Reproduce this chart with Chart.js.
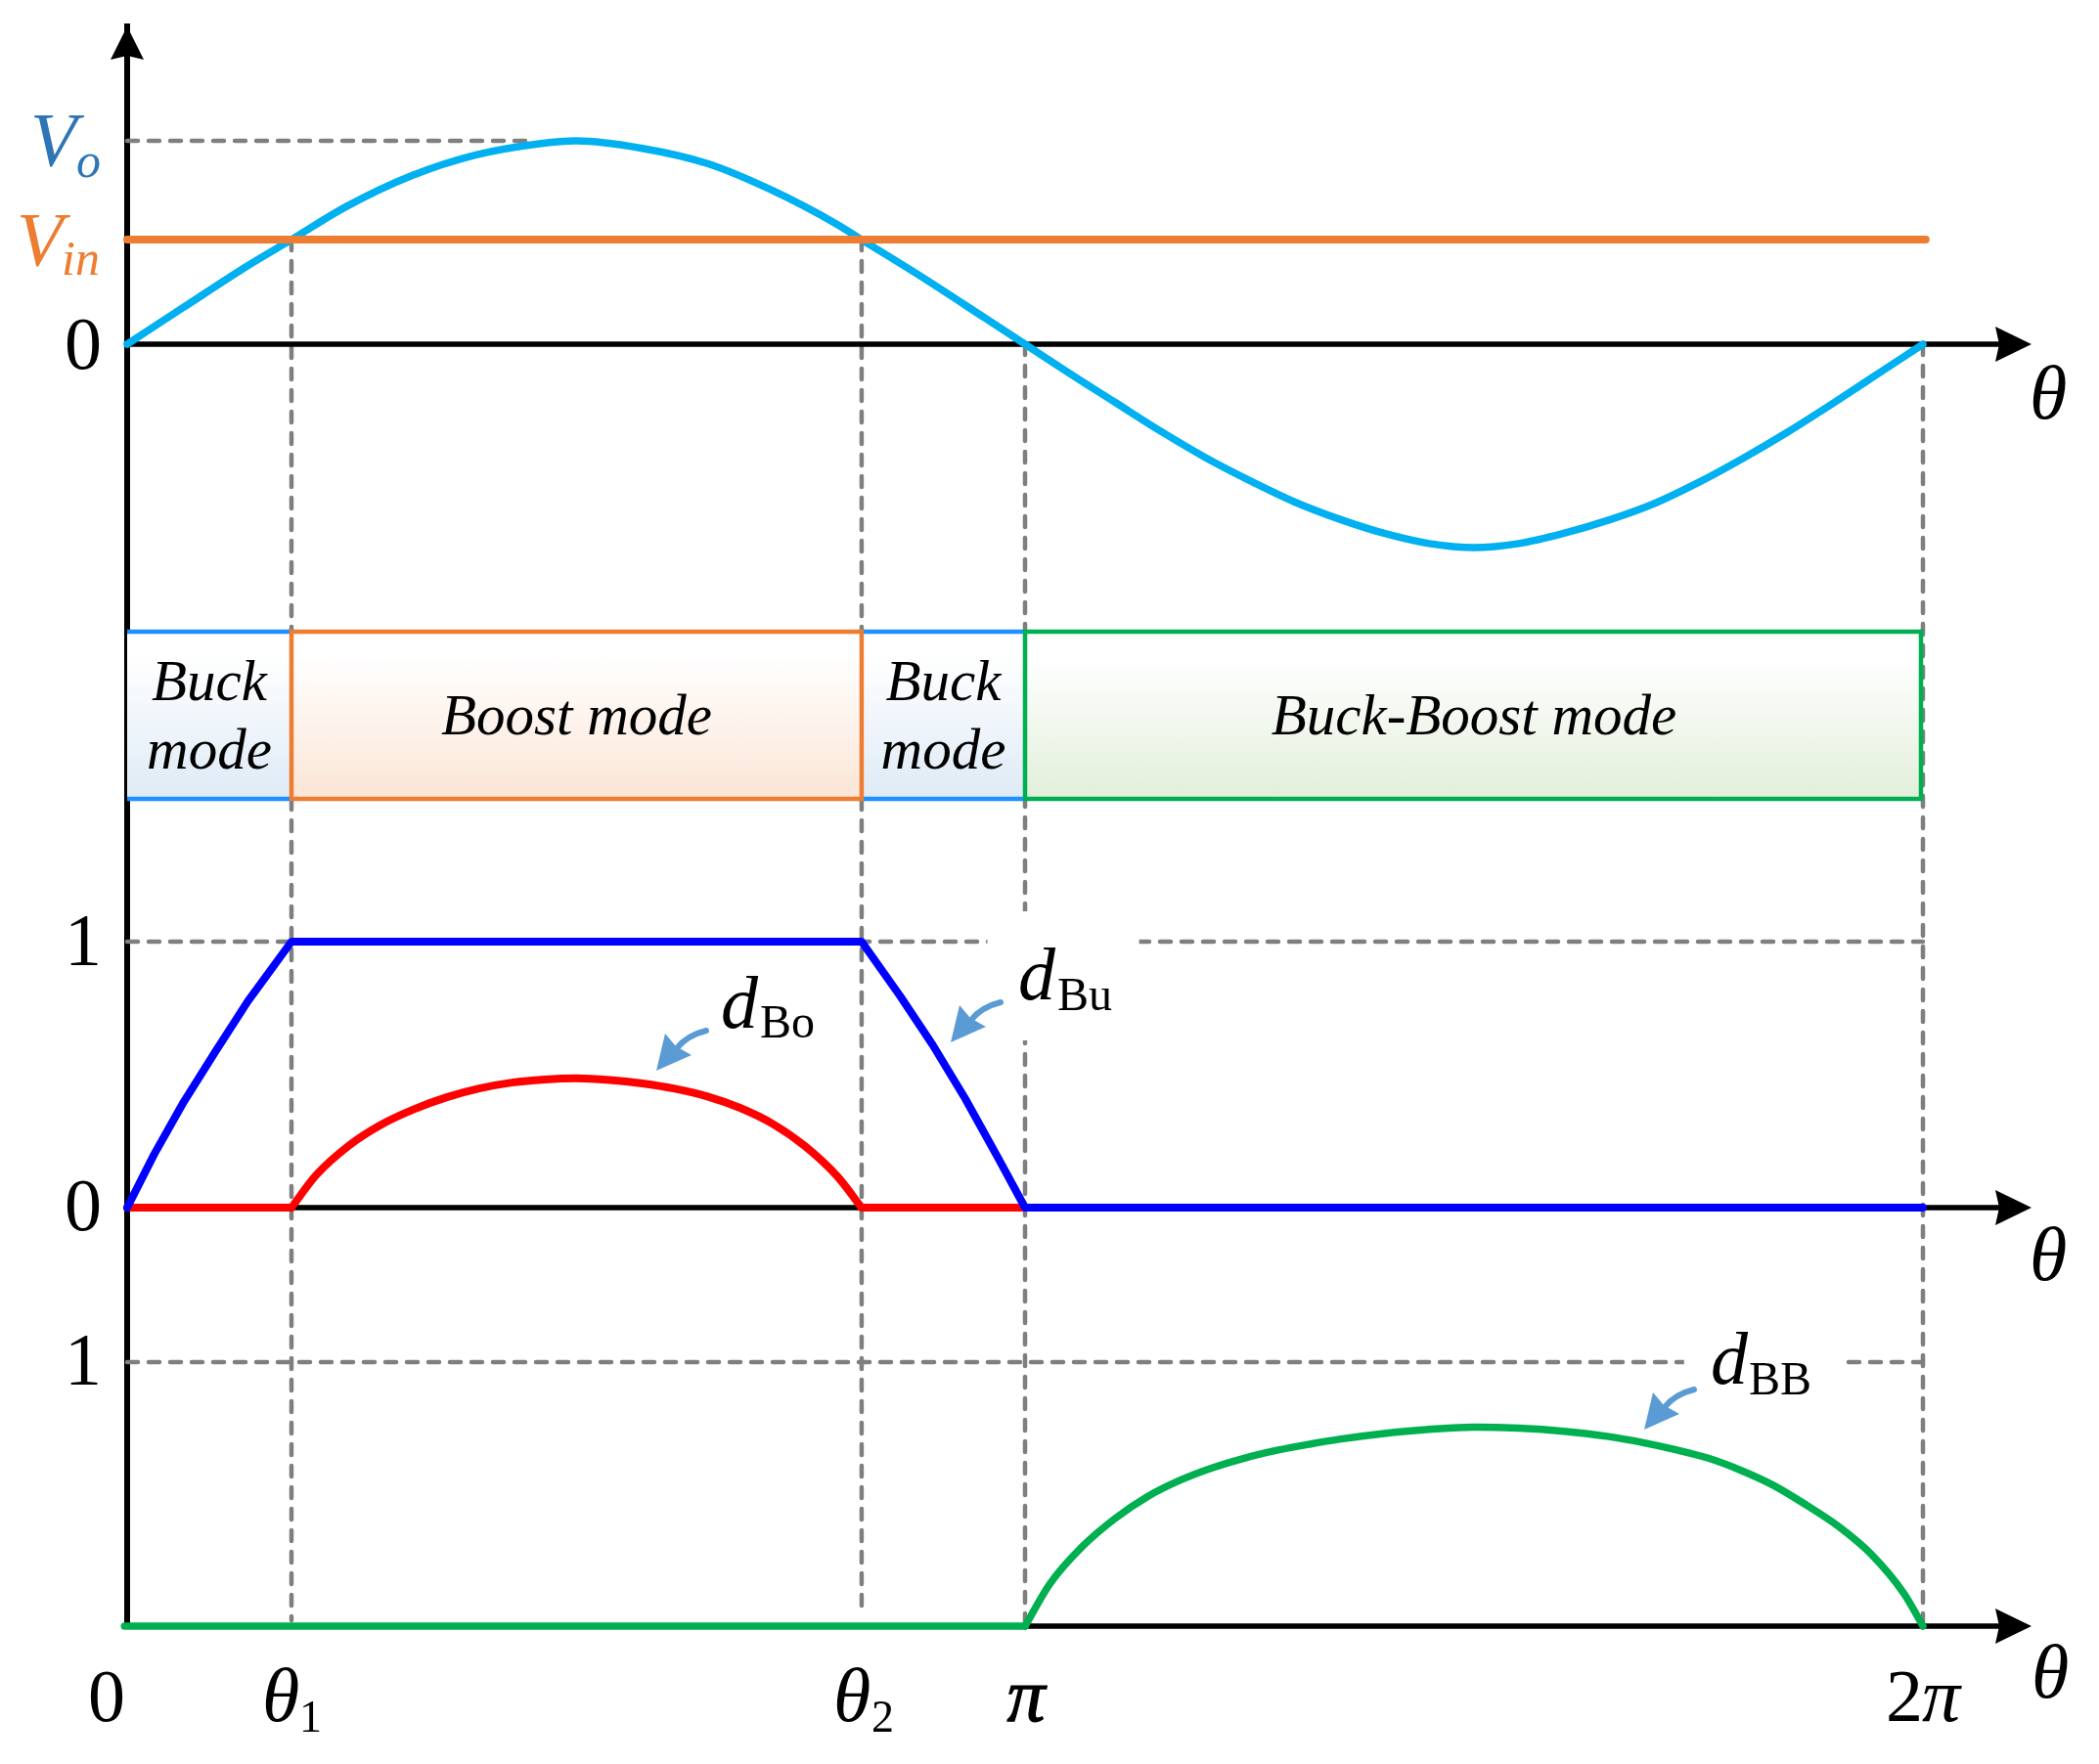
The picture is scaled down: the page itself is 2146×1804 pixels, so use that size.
<!DOCTYPE html>
<html><head><meta charset="utf-8">
<style>html,body{margin:0;padding:0;background:#fff}canvas{display:block}</style>
<script src="https://cdn.jsdelivr.net/npm/chart.js@4"></script>
</head><body>
<canvas id="c" width="2146" height="1804"></canvas>
<script>
// --- data, x in units of pi ---
const theta1 = 0.183, theta2 = 0.818, pi1 = 1, pi2 = 2;
const voX = [0,.0617,.1343,.183,.2433,.3159,.3886,.4612,.5,.5737,.6463,.719,.7916,.818,.8823,.9549,1,1.05,1.1,1.15,1.2,1.25,1.3,1.35,1.4,1.45,1.5,1.55,1.6,1.65,1.7,1.75,1.8,1.85,1.9,1.95,2];
const voY = [0,.178,.386,.514,.675,.827,.931,.987,1,.963,.888,.755,.587,.514,.338,.13,0,-.145,-.285,-.425,-.555,-.67,-.775,-.86,-.93,-.98,-1,-.98,-.93,-.865,-.785,-.68,-.56,-.43,-.29,-.145,0];
const vinX = [0,2.003];
const vinY = [.514,.514];
const dBuX = [0,.03,.0617,.098,.1343,.183,.818,.8606,.8969,.9332,.9695,1,2];
const dBuY = [0,.2,.39,.585,.775,1,1,.797,.613,.411,.19,0,0];
const dBoArcX = [.183,.2106,.2469,.2832,.3195,.3559,.3922,.4285,.4648,.5,.5374,.5737,.61,.6463,.6826,.719,.7553,.7916,.818];
const dBoArcY = [0,.1225,.233,.3125,.37,.415,.448,.47,.482,.4865,.48,.467,.447,.418,.375,.315,.23,.115,0];
const dBoFlatAX = [0,.183];
const dBoFlatBX = [.818,1];
const dBBArcX = [1,1.0276,1.064,1.1,1.136,1.173,1.209,1.245,1.282,1.318,1.35,1.4,1.45,1.5,1.55,1.6,1.65,1.6885,1.7248,1.7611,1.7974,1.8337,1.87,1.9063,1.9426,1.979,2];
const dBBArcY = [0,.16,.302,.407,.49,.553,.6,.637,.667,.69,.708,.73,.745,.754,.75,.738,.718,.695,.668,.636,.59,.533,.459,.377,.272,.123,0];
const dBBFlatX = [-.003,1];
const zeros = [0,0];
const axisX = [0,2.1];
const modeNames = [["Buck","mode"],["Boost mode"],["Buck","mode"],["Buck-Boost mode"]];
const modeEdges = [0,theta1,theta2,pi1,pi2];
const xTickLabels = ["0","θ","θ","π","2π"];

// --- layout: pixel anchors for the scales ---
const L=130,R=2077,T=27,B=1663;
function range(p0,p1){const u=p0-p1;return {min:-(B-p0)/u,max:(p0-T)/u};}
const yOpt=(r,extra)=>Object.assign({type:'linear',display:false,min:r.min,max:r.max},extra||{});
const pts=(xs,ys)=>xs.map((x,i)=>({x,y:ys[i]}));
const line=(label,xs,ys,yAxisID,color,w,order,smooth)=>({label,data:pts(xs,ys),yAxisID,borderColor:color,borderWidth:w,showLine:true,
  pointRadius:0,cubicInterpolationMode:smooth?'monotone':'default',tension:0,borderCapStyle:'round',borderJoinStyle:'round',clip:false,fill:false,order});

const SERIF='"Liberation Serif"';
function txt(ctx,s,x,y,size,style,color,align,stroke){
  ctx.font=(style?style+' ':'')+size+'px '+SERIF;ctx.fillStyle=color||'#000';ctx.textAlign=align||'left';ctx.textBaseline='alphabetic';ctx.fillText(s,x,y);
  if(stroke){ctx.strokeStyle=ctx.fillStyle;ctx.lineWidth=stroke;ctx.strokeText(s,x,y);}
}
const GREY='#7f7f7f';
function dash(ctx,x1,y1,x2,y2){ctx.save();ctx.strokeStyle=GREY;ctx.lineWidth=4.5;ctx.lineCap='round';ctx.setLineDash([11,11]);ctx.beginPath();ctx.moveTo(x1,y1);ctx.lineTo(x2,y2);ctx.stroke();ctx.restore();}

const under={id:'under',beforeDatasetsDraw(ch){
  const c=ch.ctx,s=ch.scales,X=v=>s.x.getPixelForValue(v);
  const yV=v=>s.yVo.getPixelForValue(v),yD=v=>s.yD.getPixelForValue(v),yB=v=>s.yBB.getPixelForValue(v),yM=v=>s.yMode.getPixelForValue(v);
  // guides
  dash(c,X(0),yV(1),X(.446),yV(1));
  dash(c,X(theta1),yV(.514),X(theta1),1657);
  dash(c,X(theta2),yV(.514),X(theta2),1652);
  dash(c,X(pi1),yV(0),X(pi1),yB(0));
  dash(c,X(pi2),yV(0),X(pi2),yB(0));
  dash(c,X(0),yD(1),X(pi2),yD(1));
  dash(c,X(0),yB(1),X(pi2),yB(1));
  // label masks
  c.fillStyle='#fff';
  c.fillRect(X(0.958),932,X(1.127)-X(0.958),132);
  c.fillRect(X(1.734),1360,X(1.912)-X(1.734),60);
  // mode bands
  const styles=[['#DEEAF6','#1E90FF'],['#FBE5D6','#ED7D31'],['#DEEAF6','#1E90FF'],['#E2EFDA','#00B050']];
  const y1=yM(1),y0=yM(0);
  [0,2,1,3].forEach(i=>{
    const a=X(modeEdges[i]),b=X(modeEdges[i+1])-(i==3?2:0);
    const g=c.createLinearGradient(0,y1,0,y0);g.addColorStop(0,'#fff');g.addColorStop(.15,'#fff');g.addColorStop(1,styles[i][0]);
    c.fillStyle=g;c.fillRect(a,y1,b-a,y0-y1);
    c.strokeStyle=styles[i][1];c.lineWidth=4.5;
    c.beginPath();
    if(i==0||i==2){c.moveTo(a,y1);c.lineTo(b,y1);c.moveTo(a,y0);c.lineTo(b,y0);}
    else c.rect(a,y1,b-a,y0-y1);
    c.stroke();
  });
}};

function stealth(c,tx,ty,dir){
  c.fillStyle='#000';c.beginPath();
  if(dir=='up'){c.moveTo(tx,ty);c.lineTo(tx+17,ty+34);c.lineTo(tx,ty+30);c.lineTo(tx-17,ty+34);}
  else{c.moveTo(tx,ty);c.lineTo(tx-37,ty+18);c.lineTo(tx-33,ty);c.lineTo(tx-37,ty-18);}
  c.closePath();c.fill();
}
function callout(c,dx,dy){
  c.strokeStyle='#5B9BD5';c.fillStyle='#5B9BD5';c.lineWidth=6;c.lineCap='round';
  c.beginPath();c.moveTo(722+dx,1054+dy);c.quadraticCurveTo(702+dx,1059+dy,692+dx,1072+dy);c.stroke();
  c.beginPath();c.moveTo(671+dx,1095+dy);c.lineTo(680+dx,1057+dy);c.lineTo(691+dx,1070+dy);c.lineTo(707+dx,1079+dy);c.closePath();c.fill();
}
const over={id:'over',afterDatasetsDraw(ch){
  const c=ch.ctx,s=ch.scales,X=v=>s.x.getPixelForValue(v);
  stealth(c,L,T,'up');
  ['yVo','yD','yBB'].forEach(a=>stealth(c,R,s[a].getPixelForValue(0),'right'));
  callout(c,0,0);callout(c,301,-29);callout(c,1010,367);

  // left labels
  txt(c,'V',31,169,78,'italic','#2E75B6');
  txt(c,'o',78,181,50,'italic','#2E75B6');
  txt(c,'V',17,271,78,'italic','#ED7D31');
  txt(c,'in',63,281,50,'italic','#ED7D31');
  txt(c,'0',66,377,76);
  txt(c,'1',66,987,76);
  txt(c,'0',66,1258,76);
  txt(c,'1',66,1416,76);
  // axis end labels
  txt(c,'θ',2075,428,78,'italic');
  txt(c,'θ',2075,1309,78,'italic');
  txt(c,'θ',2077,1736,78,'italic');
  // x tick labels
  txt(c,xTickLabels[0],90,1760,76);
  txt(c,xTickLabels[1],268,1760,78,'italic');
  txt(c,'1',306,1771,46);
  txt(c,xTickLabels[2],852,1760,78,'italic');
  txt(c,'2',891,1771,46);
  txt(c,xTickLabels[3],X(pi1)+1,1760,78,'italic','#000','center',1.2);
  txt(c,'2',1928,1760,76);
  txt(c,'π',1965,1760,78,'italic');
  // mode labels
  const cx=i=>(X(modeEdges[i])+X(modeEdges[i+1]))/2;
  modeNames.forEach((n,i)=>{
    if(n.length==2){txt(c,n[0],cx(i),716,59,'italic','#000','center');txt(c,n[1],cx(i),786,59,'italic','#000','center');}
    else txt(c,n[0],cx(i),751,59,'italic','#000','center');
  });
  // series labels
  txt(c,'d',737,1051,76,'italic');txt(c,'Bo',777,1061,48);
  txt(c,'d',1041,1022,76,'italic');txt(c,'Bu',1081,1033,48);
  txt(c,'d',1749,1415,76,'italic');txt(c,'BB',1788,1426,48);
}};

new Chart(document.getElementById('c'),{
  type:'scatter',
  data:{datasets:[
    line('axis1',axisX,zeros,'yVo','#000',5.5,9),
    line('axis2',axisX,zeros,'yD','#000',5.5,9),
    line('axis3',axisX,zeros,'yBB','#000',5.5,9),
    line('Vo',voX,voY,'yVo','#00B0F0',7.5,5,true),
    line('Vin',vinX,vinY,'yVo','#ED7D31',8,4),
    line('dBo',dBoArcX,dBoArcY,'yD','#FF0000',8,3,true),
    line('dBo',dBoFlatAX,zeros,'yD','#FF0000',8,3),
    line('dBo',dBoFlatBX,zeros,'yD','#FF0000',8,3),
    line('dBu',dBuX,dBuY,'yD','#0000FF',8,2),
    line('dBB',dBBArcX,dBBArcY,'yBB','#00B050',7.5,1,true),
    line('dBB',dBBFlatX,zeros,'yBB','#00B050',7.5,1)
  ]},
  plugins:[under,over],
  options:{
    responsive:false,animation:false,devicePixelRatio:1,
    layout:{padding:{left:L,right:2146-R,top:T,bottom:1804-B}},
    plugins:{legend:{display:false},tooltip:{enabled:false},title:{display:false}},
    scales:{
      x:{type:'linear',display:false,min:0,max:(R-L)/918},
      yVo:yOpt(range(352,144),{display:true,position:'left',grid:{display:false,drawTicks:false},ticks:{display:false},border:{display:true,color:'#000',width:6}}),
      yD:yOpt(range(1235,963)),
      yBB:yOpt(range(1663,1393)),
      yMode:yOpt(range(817,646))
    }
  }
});
</script>
</body></html>
